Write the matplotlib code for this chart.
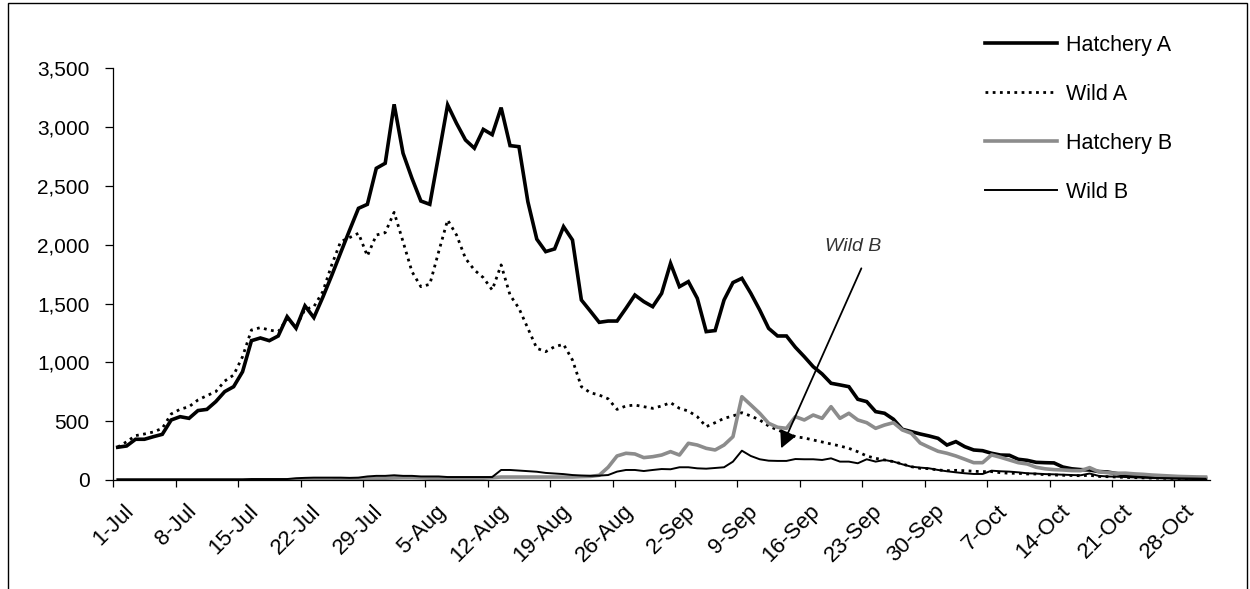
import matplotlib
matplotlib.use("Agg")
import matplotlib.pyplot as plt
import matplotlib.patches as patches
import numpy as np
from matplotlib.ticker import FuncFormatter

plt.rcParams["font.family"] = ["Liberation Sans", "DejaVu Sans"]

# daily counts, 1-Jul .. 31-Oct (123 days)
hatchery_a = [278, 289, 346, 346, 368, 388, 510, 538, 524, 590,
              600, 666, 751, 793, 920, 1184, 1207, 1184, 1224, 1388,
              1290, 1480, 1380, 1553, 1738, 1931, 2122, 2309, 2343, 2649,
              2692, 3193, 2777, 2564, 2371, 2343, 2762, 3188, 3031, 2890,
              2820, 2980, 2935, 3165, 2842, 2833, 2365, 2047, 1941, 1964,
              2153, 2040, 1530, 1436, 1340, 1351, 1351, 1459, 1572, 1516,
              1473, 1586, 1841, 1643, 1686, 1544, 1261, 1270, 1530, 1678,
              1714, 1587, 1445, 1289, 1224, 1224, 1128, 1048, 963, 901,
              822, 808, 793, 686, 666, 581, 567, 516, 431, 411,
              391, 374, 354, 297, 326, 283, 255, 249, 227, 212,
              210, 176, 167, 150, 147, 145, 110, 95, 88, 85,
              72, 68, 55, 42, 35, 30, 25, 22, 20, 18,
              16, 15, 14]

wild_a = [280, 325, 377, 391, 408, 439, 561, 601, 623, 680,
          717, 751, 841, 892, 1048, 1275, 1295, 1275, 1260, 1370,
          1300, 1450, 1473, 1601, 1828, 2026, 2060, 2097, 1904, 2082,
          2102, 2275, 2026, 1771, 1643, 1663, 1941, 2210, 2082, 1884,
          1785, 1720, 1615, 1828, 1572, 1459, 1289, 1119, 1091, 1133,
          1153, 1020, 793, 742, 722, 690, 600, 629, 637, 623,
          609, 629, 657, 609, 586, 538, 453, 487, 524, 544,
          572, 544, 510, 459, 425, 397, 368, 357, 340, 323,
          306, 289, 269, 240, 204, 184, 170, 156, 136, 113,
          99, 96, 85, 79, 82, 79, 74, 71, 71, 62,
          57, 57, 51, 51, 45, 42, 40, 38, 36, 40,
          30, 28, 25, 22, 20, 18, 16, 15, 14, 13,
          12, 11, 10]

hatchery_b = [0] * 25 + \
             [5, 8, 10, 12, 15, 15, 18, 20, 20, 18, 15, 15, 15, 15, 15, 15, 15,
              20, 25, 25, 25, 25, 25, 25, 25, 25, 25, 28, 30, 40,
              108, 204, 227, 221, 190, 198, 212, 241, 212, 312,
              297, 269, 255, 297, 368, 708, 638, 567, 482, 448,
              439, 538, 510, 552, 524, 623, 524, 567, 510, 487,
              439, 467, 487, 425, 397, 314, 278, 244, 227, 204,
              176, 147, 147, 213, 193, 170, 147, 136, 108, 95,
              88, 85, 80, 79, 105, 71, 62, 57, 58, 52,
              48, 42, 38, 34, 30, 28, 26, 25]

wild_b = [5] * 15 + [8] * 5 + \
         [15, 18, 20, 20, 20, 20, 18, 20,
          30, 35, 35, 40, 35, 35, 30, 30, 30, 25,
          25, 25, 25, 25, 25,
          85, 85, 80, 75, 70, 60, 55, 50, 42, 38,
          35, 37, 42, 71, 85, 85, 76, 85, 93, 91,
          108, 108, 99, 96, 102, 108, 156, 249, 204, 176,
          164, 162, 162, 178, 176, 176, 170, 184, 156, 156,
          142, 176, 156, 170, 156, 133, 113, 105, 99, 85,
          74, 65, 57, 51, 51, 79, 74, 71, 65, 57,
          54, 50, 48, 45, 42, 40, 55, 35, 30, 28,
          25, 22, 20, 18, 16, 15, 14, 13, 12, 10]

tick_labels = ["1-Jul", "8-Jul", "15-Jul", "22-Jul", "29-Jul", "5-Aug", "12-Aug",
               "19-Aug", "26-Aug", "2-Sep", "9-Sep", "16-Sep", "23-Sep", "30-Sep",
               "7-Oct", "14-Oct", "21-Oct", "28-Oct"]

days = np.arange(len(hatchery_a))

fig = plt.figure(figsize=(12.5, 5.89), dpi=100)
ax = fig.add_axes([0.0906, 0.1851, 0.8774, 0.6991])

ax.plot(days, hatchery_a, color="black", lw=2.6, label="Hatchery A", solid_joinstyle="miter")
ax.plot(days, wild_a, color="black", lw=2.0, linestyle=(0, (1, 1.6)), label="Wild A")
ax.plot(days, hatchery_b, color="#8c8c8c", lw=2.6, label="Hatchery B")
ax.plot(days, wild_b, color="black", lw=1.4, label="Wild B")

ax.set_xlim(-0.5, len(days) - 0.5)
ax.set_ylim(0, 3500)

# tick marks between categories, labels on categories
label_pos = np.arange(0, len(days), 7)[:len(tick_labels)]
ax.set_xticks(label_pos - 0.5)
ax.set_xticklabels([])
ax.set_xticks(label_pos + 0.6, minor=True)
ax.set_xticklabels(tick_labels, minor=True, rotation=45, ha="right", va="top",
                   rotation_mode="anchor", fontsize=16)
ax.tick_params(axis="x", which="major", direction="out", length=5, width=0.9)
ax.tick_params(axis="x", which="minor", length=0, pad=15)

ax.set_yticks(np.arange(0, 3501, 500))
ax.yaxis.set_major_formatter(FuncFormatter(lambda v, p: f"{v:,.0f}"))
ax.tick_params(axis="y", direction="out", length=6, width=0.9, pad=11, labelsize=15)

for side in ["top", "right"]:
    ax.spines[side].set_visible(False)
for side in ["left", "bottom"]:
    ax.spines[side].set_linewidth(0.9)

ax.text(82.5, 1983, "Wild B", ha="center", va="center", fontsize=14,
        style="italic", color="#333333")
ax.annotate("", xy=(74.4, 269), xytext=(83.4, 1799),
            arrowprops=dict(arrowstyle="-|>", color="black", lw=1.3, mutation_scale=26,
                            shrinkA=0, shrinkB=0))

ax.legend(loc="upper left", bbox_to_anchor=(0.788, 0.941), bbox_transform=fig.transFigure,
          frameon=False, fontsize=15.5, handlelength=3.35, handletextpad=0.4,
          labelspacing=1.3, borderpad=0, borderaxespad=0)

# chart area border
fig.add_artist(patches.Rectangle((8 / 1250, -0.05), 1239 / 1250, 1.05 - 3 / 589,
                                 transform=fig.transFigure, fill=False,
                                 edgecolor="black", lw=1.0))

fig.savefig("out.png", dpi=100)
